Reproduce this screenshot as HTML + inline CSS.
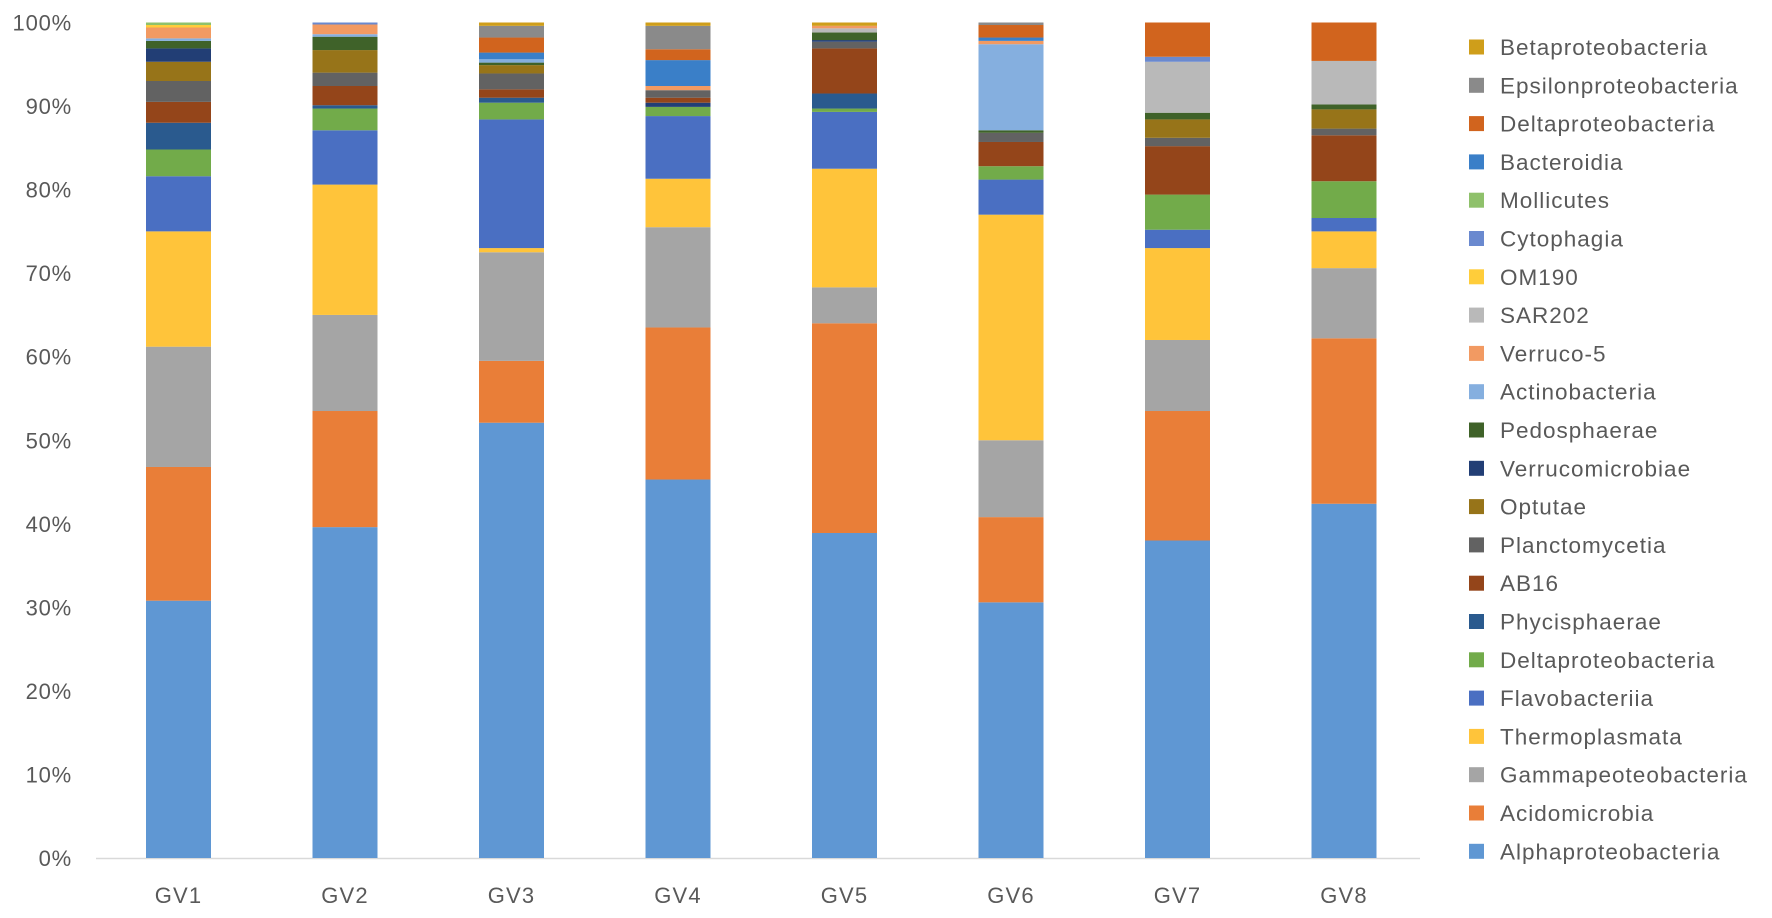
<!DOCTYPE html>
<html><head><meta charset="utf-8"><style>
html,body{margin:0;padding:0;background:#fff;}
svg{display:block;font-family:"Liberation Sans",sans-serif;}
</style></head><body>
<svg id="c" width="1772" height="918" xmlns="http://www.w3.org/2000/svg"></svg>
<script>
var C={alpha:"#5F97D3",acido:"#E97E38",gamma:"#A5A5A5",thermo:"#FFC43A",flavo:"#4A6FC2",dgreen:"#72AB4A",phyc:"#2A5A8E",ab16:"#94451A",plan:"#626262",opt:"#977419",verr:"#223E75",pedo:"#3F6229",actino:"#85AFDF",verr5:"#F29A62",sar:"#B9B9B9",om:"#FFCD3A",cyto:"#6A89CF",moll:"#8FC16B",bact:"#3A7FC8",delta:"#D1641E",eps:"#8A8A8A",beta:"#CF9E1A"};
var legend=[["Betaproteobacteria","beta"],["Epsilonproteobacteria","eps"],["Deltaproteobacteria","delta"],["Bacteroidia","bact"],["Mollicutes","moll"],["Cytophagia","cyto"],["OM190","om"],["SAR202","sar"],["Verruco-5","verr5"],["Actinobacteria","actino"],["Pedosphaerae","pedo"],["Verrucomicrobiae","verr"],["Optutae","opt"],["Planctomycetia","plan"],["AB16","ab16"],["Phycisphaerae","phyc"],["Deltaproteobacteria","dgreen"],["Flavobacteriia","flavo"],["Thermoplasmata","thermo"],["Gammapeoteobacteria","gamma"],["Acidomicrobia","acido"],["Alphaproteobacteria","alpha"]];
var bars=[
[["alpha",30.8],["acido",46.8],["gamma",61.2],["thermo",75.0],["flavo",81.6],["dgreen",84.8],["phyc",88.0],["ab16",90.5],["plan",93.0],["opt",95.3],["verr",96.9],["pedo",97.8],["actino",98.1],["verr5",99.4],["om",99.7],["moll",100]],
[["alpha",39.6],["acido",53.5],["gamma",65.0],["thermo",80.6],["flavo",87.1],["dgreen",89.7],["phyc",90.1],["ab16",92.4],["plan",94.0],["opt",96.7],["pedo",98.3],["actino",98.6],["verr5",99.76],["cyto",100]],
[["alpha",52.1],["acido",59.5],["gamma",72.5],["thermo",73.0],["flavo",88.4],["dgreen",90.4],["phyc",91.0],["ab16",92.0],["plan",93.9],["opt",94.9],["pedo",95.2],["actino",95.6],["bact",96.4],["delta",98.2],["eps",99.6],["beta",100]],
[["alpha",45.3],["acido",63.5],["gamma",75.5],["thermo",81.3],["flavo",88.8],["dgreen",89.9],["verr",90.4],["ab16",91.0],["plan",91.9],["verr5",92.4],["bact",95.5],["delta",96.8],["eps",99.6],["beta",100]],
[["alpha",38.9],["acido",64.0],["gamma",68.3],["thermo",82.5],["flavo",89.3],["dgreen",89.7],["phyc",91.5],["ab16",96.9],["plan",97.7],["verr",97.9],["pedo",98.8],["sar",99.3],["verr5",99.6],["beta",100]],
[["alpha",30.6],["acido",40.8],["gamma",50.0],["thermo",77.0],["flavo",81.2],["dgreen",82.8],["ab16",85.7],["plan",86.8],["pedo",87.1],["actino",97.4],["verr5",97.8],["bact",98.2],["delta",99.7],["eps",100]],
[["alpha",38.0],["acido",53.5],["gamma",62.0],["thermo",73.0],["flavo",75.2],["dgreen",79.4],["ab16",85.2],["plan",86.2],["opt",88.4],["pedo",89.2],["sar",95.3],["cyto",95.9],["delta",100]],
[["alpha",42.4],["acido",62.2],["gamma",70.6],["thermo",75.0],["flavo",76.6],["dgreen",81.0],["ab16",86.5],["plan",87.3],["opt",89.6],["pedo",90.2],["sar",95.4],["delta",100]]
];
var y0=858,k=8.355,s="";
function Y(p){return y0-p*k;}
for(var i=0;i<=10;i++){s+='<text x="72" y="'+(Y(i*10)+8)+'" text-anchor="end" font-size="22" letter-spacing="0.8" fill="#595959">'+(i*10)+'%</text>';}
s+='<line x1="96" y1="858.5" x2="1420" y2="858.5" stroke="#D9D9D9" stroke-width="1.5"/>';
bars.forEach(function(b,i){var cx=178.5+i*166.5,x=cx-32.5,prev=0;
 b.forEach(function(seg){var t=seg[1];s+='<rect x="'+x+'" y="'+Y(t).toFixed(2)+'" width="65" height="'+((t-prev)*k).toFixed(2)+'" fill="'+C[seg[0]]+'"/>';prev=t;});
 s+='<text x="'+cx+'" y="903" text-anchor="middle" font-size="22" letter-spacing="1.2" fill="#595959">GV'+(i+1)+'</text>';});
legend.forEach(function(l,i){var cy=47+i*38.3;
 s+='<rect x="1469" y="'+(cy-7.5)+'" width="15" height="15" fill="'+C[l[1]]+'"/>';
 s+='<text x="1500" y="'+(cy+8)+'" font-size="22.5" letter-spacing="1" fill="#595959">'+l[0]+'</text>';});
document.getElementById("c").innerHTML=s;
</script>
</body></html>
